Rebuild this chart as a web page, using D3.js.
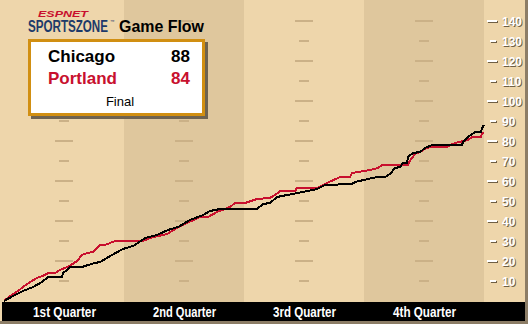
<!DOCTYPE html>
<html>
<head>
<meta charset="utf-8">
<script src="https://cdn.jsdelivr.net/npm/d3@7"></script>
<style>
  body { margin: 0; background: #fff; }
  svg { display: block; }
</style>
</head>
<body>
<svg id="chart" width="528" height="324"></svg>
<script>
const quarters = ["1st Quarter", "2nd Quarter", "3rd Quarter", "4th Quarter"];
const yTicks = [10, 20, 30, 40, 50, 60, 70, 80, 90, 100, 110, 120, 130, 140];

// game clock in minutes, score at that time
const chicagoMinutes = [0, 0.9, 1.9, 2.9, 3.8, 4.4, 5.8, 5.9, 6.3, 6.6, 7.8, 8.1, 9.1, 9.6, 10.8, 11.9, 12.9, 13.4, 14.1, 15.3,
  16.4, 17.4, 18.6, 19.9, 20.6, 21.6, 25.3, 25.9, 26.6, 27.3, 28.3, 29.9, 31.3, 32.1, 34.8, 35.1, 37.3, 38.1, 38.6, 39.1,
  39.6, 39.9, 40.3, 40.4, 40.9, 41.6, 42.1, 42.8, 45.8, 45.9, 46.4, 47.1, 47.7, 47.8, 48];
const chicagoScores = [0, 2.5, 5, 7, 9.5, 12, 12, 14, 15.5, 17, 17, 17.5, 19, 19.5, 23, 26, 27.5, 29, 31.5, 33,
  35.5, 37, 40.5, 43, 45, 46, 46, 48.5, 49, 52, 53, 54.5, 56, 58, 58.5, 59.5, 62, 62, 63.5, 66.5,
  67, 69, 69, 72, 74, 74.5, 76.5, 78, 78, 79.5, 82, 84.5, 84.5, 86.5, 88];

const portlandMinutes = [0, 0.6, 1.4, 1.9, 2.6, 3.3, 4.1, 4.4, 5.1, 5.6, 6.3, 6.7, 7.3, 7.8, 8.3, 8.9, 9.3, 9.6, 10.1, 11.1,
  13.9, 14.6, 16.3, 17.3, 18.3, 19.6, 20.4, 21.3, 22.6, 23.1, 24.1, 25.3, 26.6, 27.4, 27.6, 29.1, 29.3, 31.3, 32.3, 33.6,
  34.6, 34.8, 36.6, 37.4, 37.8, 40.4, 40.5, 40.8, 41.1, 41.6, 42.1, 42.6, 44.3, 44.6, 45.1, 46.4, 46.8, 47.7, 47.8, 48];
const portlandScores = [0, 2.5, 5, 7, 9.5, 11.5, 13, 14, 14, 15.5, 17, 18, 20, 23, 24, 24.5, 26.5, 28, 28, 30,
  30, 31.5, 33.5, 36.5, 39, 42, 42, 44.5, 47, 49, 49, 51, 51.5, 54, 55, 55, 56.5, 56.5, 59, 62,
  62, 64, 65.5, 66.5, 68, 68, 69.5, 71.5, 73.5, 74.5, 76, 77, 77, 78, 79, 80.5, 82, 82, 84, 84];

const teams = ["Chicago", "Portland"];
const finals = [88, 84];

const W = 528, H = 324;
const light = "#eed6ab", dark = "#dfc79d", tan = "#cbb187";
const red = "#c8102e";

const svg = d3.select("#chart");

const x = d3.scaleLinear().domain([0, 48]).range([4, 484]);
const y = d3.scaleLinear().domain([0, 150]).range([301, 1]);

// background
svg.append("rect").attr("width", W).attr("height", H).attr("fill", light);

svg.append("g").selectAll("rect")
  .data(quarters)
  .join("rect")
  .attr("x", (d, i) => i === 0 ? 0 : x(i * 12))
  .attr("y", 0)
  .attr("width", (d, i) => x((i + 1) * 12) - (i === 0 ? 0 : x(i * 12)))
  .attr("height", 302)
  .attr("fill", (d, i) => i % 2 ? dark : light);

// little grid dashes in the middle of each quarter
const dashes = svg.append("g");
quarters.forEach((q, i) => {
  const cx = x(i * 12 + 6);
  dashes.selectAll(null)
    .data(yTicks)
    .join("rect")
    .attr("x", d => d % 20 === 0 ? cx - 9 : cx - 5)
    .attr("y", d => y(d) - 1)
    .attr("width", d => d % 20 === 0 ? 18 : 10)
    .attr("height", 2)
    .attr("fill", tan);
});

// right axis: white marks with a dark drop shadow
const yAxis = svg.append("g").attr("class", "y axis");
const axisLayer = (dx, dy, fill) => {
  const g = yAxis.append("g").attr("transform", `translate(${dx},${dy})`);
  g.selectAll("rect")
    .data(yTicks)
    .join("rect")
    .attr("x", d => d % 20 === 0 ? 487 : 490)
    .attr("y", d => y(d) - 1)
    .attr("width", d => d % 20 === 0 ? 10 : 6)
    .attr("height", 2)
    .attr("fill", fill);
  g.selectAll("text")
    .data(yTicks)
    .join("text")
    .attr("x", 502)
    .attr("y", d => y(d) + 4.5)
    .attr("fill", fill)
    .attr("font-family", "Liberation Sans, Arial, sans-serif")
    .attr("font-weight", "bold")
    .attr("font-size", 12)
    .text(d => d);
};
axisLayer(1, 1, "#6f5f45");
axisLayer(0, 0, "#fff");

// score lines
const line = d3.line()
  .x(d => x(d[0]))
  .y(d => y(d[1]));

svg.append("path")
  .datum(d3.zip(portlandMinutes, portlandScores))
  .attr("fill", "none")
  .attr("stroke", red)
  .attr("stroke-width", 2)
  .attr("shape-rendering", "crispEdges")
  .attr("d", line);

svg.append("path")
  .datum(d3.zip(chicagoMinutes, chicagoScores))
  .attr("fill", "none")
  .attr("stroke", "#000")
  .attr("stroke-width", 2)
  .attr("shape-rendering", "crispEdges")
  .attr("d", line);

// bottom bar with quarter names
svg.append("rect")
  .attr("x", 2).attr("y", 302)
  .attr("width", 523).attr("height", 19)
  .attr("fill", "#000");

svg.append("g").selectAll("text")
  .data(quarters)
  .join("text")
  .attr("x", (d, i) => x(i * 12 + 6) - 31)
  .attr("y", 317)
  .attr("textLength", 63)
  .attr("lengthAdjust", "spacingAndGlyphs")
  .attr("fill", "#fff")
  .attr("font-family", "Liberation Sans Narrow, Liberation Sans, Arial, sans-serif")
  .attr("font-weight", "bold")
  .attr("font-size", 15)
  .text(d => d);

// frame shadow right / bottom
svg.append("rect").attr("x", 525).attr("y", 0).attr("width", 3).attr("height", H).attr("fill", "#8c7d66");
svg.append("rect").attr("x", 0).attr("y", 321).attr("width", W).attr("height", 3).attr("fill", "#8c7d66");

// title
svg.append("text")
  .attr("x", 38).attr("y", 16.5)
  .attr("textLength", 50)
  .attr("lengthAdjust", "spacingAndGlyphs")
  .attr("fill", red)
  .attr("font-family", "Liberation Sans, Arial, sans-serif")
  .attr("font-weight", "bold")
  .attr("font-style", "italic")
  .attr("font-size", 9.5)
  .text("ESPNET");

svg.append("text")
  .attr("x", 28).attr("y", 32)
  .attr("textLength", 80)
  .attr("lengthAdjust", "spacingAndGlyphs")
  .attr("fill", "#1d3a6a")
  .attr("font-family", "Liberation Sans Narrow, Liberation Sans, Arial, sans-serif")
  .attr("font-weight", "bold")
  .attr("font-size", 16)
  .text("SPORTSZONE");

svg.append("text")
  .attr("x", 110).attr("y", 23)
  .attr("fill", "#1d3a6a")
  .attr("font-family", "Liberation Sans, Arial, sans-serif")
  .attr("font-size", 4.5)
  .text("™");

svg.append("text")
  .attr("x", 119).attr("y", 32)
  .attr("textLength", 85)
  .attr("lengthAdjust", "spacingAndGlyphs")
  .attr("fill", "#000")
  .attr("font-family", "Liberation Sans Narrow, Liberation Sans, Arial, sans-serif")
  .attr("font-weight", "bold")
  .attr("font-size", 17)
  .text("Game Flow");

// score box
const box = svg.append("g");
box.append("rect").attr("x", 31).attr("y", 42).attr("width", 177).attr("height", 77).attr("fill", "#6e6350");
box.append("rect").attr("x", 28).attr("y", 39).attr("width", 177).attr("height", 77).attr("fill", "#d18f12");
box.append("rect").attr("x", 31).attr("y", 42).attr("width", 171).attr("height", 71).attr("fill", "#fff");

box.selectAll("text.team")
  .data(teams)
  .join("text")
  .attr("class", "team")
  .attr("x", 48)
  .attr("y", (d, i) => 62 + i * 22)
  .attr("fill", (d, i) => i ? red : "#000")
  .attr("font-family", "Liberation Sans, Arial, sans-serif")
  .attr("font-weight", "bold")
  .attr("font-size", 17)
  .text(d => d);

box.selectAll("text.score")
  .data(finals)
  .join("text")
  .attr("class", "score")
  .attr("x", 190)
  .attr("y", (d, i) => 62 + i * 22)
  .attr("text-anchor", "end")
  .attr("fill", (d, i) => i ? red : "#000")
  .attr("font-family", "Liberation Sans, Arial, sans-serif")
  .attr("font-weight", "bold")
  .attr("font-size", 17)
  .text(d => d);

box.append("text")
  .attr("x", 120).attr("y", 106)
  .attr("text-anchor", "middle")
  .attr("fill", "#000")
  .attr("font-family", "Liberation Sans, Arial, sans-serif")
  .attr("font-size", 13)
  .text("Final");
</script>
</body>
</html>
